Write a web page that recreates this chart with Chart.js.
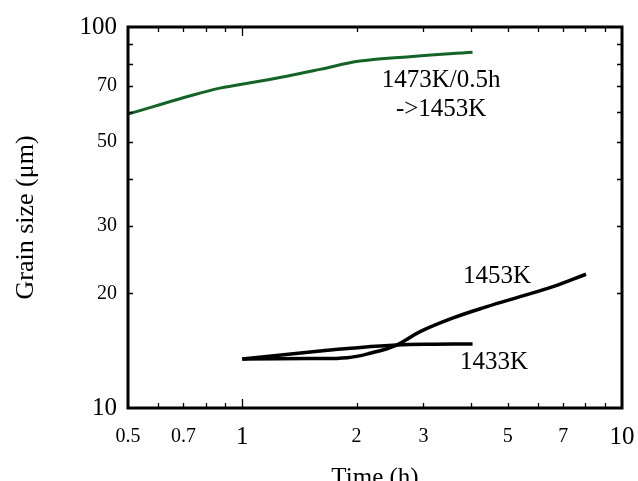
<!DOCTYPE html>
<html>
<head>
<meta charset="utf-8">
<script src="https://cdn.jsdelivr.net/npm/chart.js@4.4.1/dist/chart.umd.min.js"></script>
<style>
  html, body { margin: 0; padding: 0; background: #fff; }
  #wrap { width: 638px; height: 481px; }
</style>
</head>
<body>
<div id="wrap"><canvas id="grainChart"></canvas></div>
<script>
// values (time in h, grain size in um)
const greenTimes = [0.5, 0.583, 0.714, 0.873, 1.069, 1.309, 1.603, 2.04, 2.76, 4.04];
const greenSizes = [59.1, 61.8, 65.6, 69.1, 71.6, 74.3, 77.4, 81.4, 83.6, 85.8];

const k1453Times = [1.0, 1.5, 1.89, 2.17, 2.55, 2.94, 3.59, 4.41, 5.39, 6.58, 8.04];
const k1453Sizes = [13.45, 13.48, 13.55, 13.92, 14.63, 15.86, 17.23, 18.45, 19.6, 20.82, 22.44];

const k1433Times = [1.0, 1.603, 1.93, 2.55, 3.2, 4.04];
const k1433Sizes = [13.45, 14.11, 14.35, 14.63, 14.7, 14.72];

// tick values and their labels
const xTicks = [0.5, 0.6, 0.7, 0.8, 0.9, 1, 2, 3, 4, 5, 6, 7, 8, 9, 10];
const xLabels = { 0.5: "0.5", 0.7: "0.7", 1: "1", 2: "2", 3: "3", 5: "5", 7: "7", 10: "10" };
const yTicks = [10, 20, 30, 40, 50, 60, 70, 80, 90, 100];
const yLabels = { 10: "10", 20: "20", 30: "30", 50: "50", 70: "70", 100: "100" };
const bigTicks = [1, 10, 100];

const serif = "'Liberation Serif', 'Times New Roman', serif";

function pts(xs, ys) {
  return xs.map((x, i) => ({ x: x, y: ys[i] }));
}

function tickFont(ctx) {
  const big = ctx.tick && bigTicks.includes(ctx.tick.value);
  return { family: serif, size: big ? 25 : 20, lineHeight: "20px" };
}

// frame box, inward tick marks and curve labels
const framePlugin = {
  id: "frame",
  afterDraw(chart) {
    const { ctx, chartArea: a, scales } = chart;
    const xs = scales.x, ys = scales.y;
    ctx.save();
    ctx.strokeStyle = "#000";
    ctx.lineWidth = 1.3;
    ctx.beginPath();
    xTicks.forEach((v) => {
      if (v === 0.5 || v === 10) return;
      const px = Math.round(xs.getPixelForValue(v)) + 0.5;
      const len = v === 1 ? 9 : 5;
      ctx.moveTo(px, a.bottom); ctx.lineTo(px, a.bottom - len);
      ctx.moveTo(px, a.top); ctx.lineTo(px, a.top + len);
    });
    yTicks.forEach((v) => {
      if (v === 10 || v === 100) return;
      const py = Math.round(ys.getPixelForValue(v)) + 0.5;
      ctx.moveTo(a.left, py); ctx.lineTo(a.left + 5, py);
      ctx.moveTo(a.right, py); ctx.lineTo(a.right - 5, py);
    });
    ctx.stroke();

    ctx.lineWidth = 3;
    ctx.strokeRect(a.left, a.top, a.right - a.left, a.bottom - a.top);

    ctx.fillStyle = "#000";
    ctx.font = "25px " + serif;
    ctx.textAlign = "center";
    ctx.textBaseline = "middle";
    const notes = [
      ["1473K/0.5h", 3.34, 72.6],
      ["->1453K", 3.34, 60.6],
      ["1453K", 4.69, 22.2],
      ["1433K", 4.6, 13.2],
    ];
    notes.forEach(([t, x, y]) => {
      ctx.fillText(t, xs.getPixelForValue(x), ys.getPixelForValue(y));
    });
    ctx.restore();
  },
};

const ctx = document.getElementById("grainChart").getContext("2d");
const grainChart = new Chart(ctx, {
  type: "scatter",
  data: {
    datasets: [
      {
        label: "1473K/0.5h ->1453K",
        data: pts(greenTimes, greenSizes),
        borderColor: "#146428",
        borderWidth: 3,
      },
      {
        label: "1453K",
        data: pts(k1453Times, k1453Sizes),
        borderColor: "#000",
        borderWidth: 3.5,
      },
      {
        label: "1433K",
        data: pts(k1433Times, k1433Sizes),
        borderColor: "#000",
        borderWidth: 3.5,
      },
    ].map((d) => Object.assign(d, {
      showLine: true,
      pointRadius: 0,
      fill: false,
      tension: 0.4,
    })),
  },
  plugins: [framePlugin],
  options: {
    responsive: true,
    maintainAspectRatio: false,
    animation: false,
    layout: { padding: { left: 0, right: 16, top: 27, bottom: 0 } },
    plugins: { legend: { display: false }, tooltip: { enabled: false } },
    scales: {
      x: {
        type: "logarithmic",
        min: 0.5,
        max: 10,
        afterFit: (s) => {
          s.height = 73;
          s.paddingLeft = 0;
          s.paddingRight = 0;
        },
        afterBuildTicks: (s) => { s.ticks = xTicks.map((v) => ({ value: v })); },
        grid: { display: false, drawTicks: false },
        border: { display: false },
        ticks: {
          autoSkip: false,
          maxRotation: 0,
          padding: 19,
          color: "#000",
          font: tickFont,
          callback: (v) => xLabels[v] || "",
        },
        title: {
          display: true,
          text: "Time (h)",
          color: "#000",
          font: { family: serif, size: 25 },
          padding: { top: 0, bottom: -12 },
        },
      },
      y: {
        type: "logarithmic",
        min: 10,
        max: 100,
        afterFit: (s) => {
          s.width = 128;
          s.paddingTop = 0;
          s.paddingBottom = 0;
        },
        afterBuildTicks: (s) => { s.ticks = yTicks.map((v) => ({ value: v })); },
        grid: { display: false, drawTicks: false },
        border: { display: false },
        ticks: {
          autoSkip: false,
          padding: 11,
          color: "#000",
          font: tickFont,
          callback: (v) => yLabels[v] || "",
        },
        title: {
          display: true,
          text: "Grain size (μm)",
          color: "#000",
          font: { family: serif, size: 26 },
          padding: { top: 11, bottom: 0 },
        },
      },
    },
  },
});
</script>
</body>
</html>
